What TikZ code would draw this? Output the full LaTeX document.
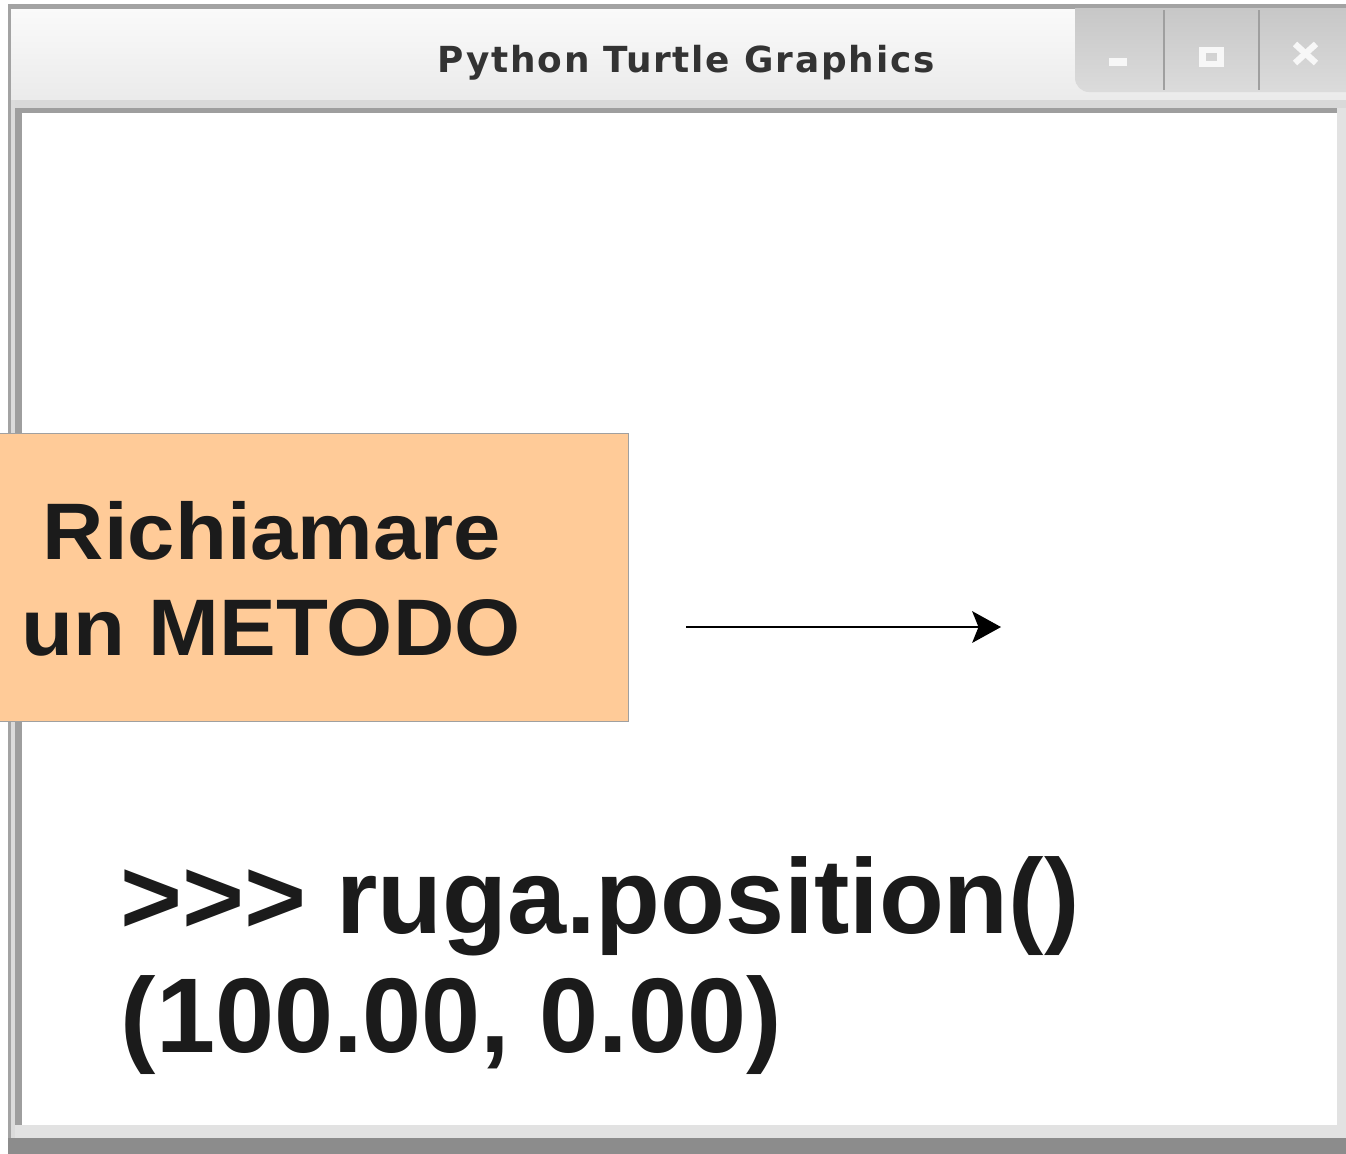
\documentclass[tikz,border=0pt]{standalone}
\usepackage{fontspec}
\usetikzlibrary{arrows.meta}
\newfontfamily\titlefont[LetterSpace=5]{DejaVu Sans}
\newfontfamily\slidefont[FakeStretch=1.06]{Liberation Sans}
\newfontfamily\codefont{Liberation Sans}
\definecolor{framegray}{HTML}{A3A3A3}
\definecolor{bordergray}{HTML}{9E9E9E}
\definecolor{lightband}{HTML}{E2E2E2}
\definecolor{titlegray}{HTML}{333333}
\definecolor{peach}{HTML}{FFCB98}
\definecolor{boxedge}{HTML}{A0A0A0}
\definecolor{inkblack}{HTML}{1B1B1B}

\begin{document}
\begin{tikzpicture}[x=0.01cm, y=-0.01cm,
  boxtext/.style={font=\slidefont\bfseries\fontsize{22.8}{27.3}\selectfont, text=inkblack, anchor=base, inner sep=0pt},
  codetext/.style={font=\codefont\bfseries\fontsize{30.2}{34}\selectfont, text=inkblack, anchor=base west, inner sep=0pt},
  glyph/.style={draw=white!97!black, line width=1.8pt},
  btnsep/.style={draw=gray!75, line width=0.4pt}]
  \useasboundingbox (0,0) rectangle (1346,1153);

  % Window frame
  \fill[framegray] (8,4) rectangle (1346,1138);
  \shade[top color=white!98!black, bottom color=white!92!black] (11,9) rectangle (1346,100);
  \fill[white!85!black] (11,100) rectangle (1346,108);
  \fill[white!86!black] (11,100) rectangle (15,1138);
  \fill[bordergray] (15,108) rectangle (1346,1125);
  \fill[white] (22,113) rectangle (1337,1125);
  \fill[lightband] (1337,108) rectangle (1346,1138);
  \fill[lightband] (15,1125) rectangle (1346,1138);
  \shade[top color=gray!90, bottom color=gray!110!black] (8,1138) rectangle (1346,1153);

  % Title
  \node[font=\titlefont\bfseries\fontsize{10.2}{12}\selectfont, text=titlegray, anchor=base] (title) at (686,72) {Python Turtle Graphics};

  % Buttons
  \shade[top color=white!78!black, bottom color=white!86!black] (1346,8) -- (1075,8) [rounded corners=4pt] -- (1075,92) [sharp corners] -- (1346,92) -- cycle;
  \draw[btnsep] (1164,10) -- (1164,90);
  \draw[btnsep] (1259,10) -- (1259,90);
  \fill[white!97!black] (1109,58) rectangle (1127,66);
  \draw[glyph] (1202.5,50) rectangle (1220.5,64);
  \draw[glyph] (1295,44) -- (1316,63);
  \draw[glyph] (1295,63) -- (1316,44);

  % Label box
  \node[draw=boxedge, fill=peach, line width=0.3pt, minimum width=6.28cm, minimum height=2.87cm, inner sep=0pt] (callout) at (314,577.5) {};
  \node[boxtext] (calltop) at (272,559) {Richiamare};
  \node[boxtext] (callbot) at (271,655) {un METODO};

  % Turtle path
  \coordinate (start) at (686,627);
  \coordinate (turtle) at (1001,627);
  \draw[line width=0.55pt, -{Stealth[length=8.2pt, width=9pt, inset=1.8pt]}] (start) -- (turtle);

  % Shell lines
  \node[codetext] (prompt) at (120,933) {>>> ruga.position()};
  \node[codetext] (result) at (120,1052) {(100.00, 0.00)};
\end{tikzpicture}
\end{document}
